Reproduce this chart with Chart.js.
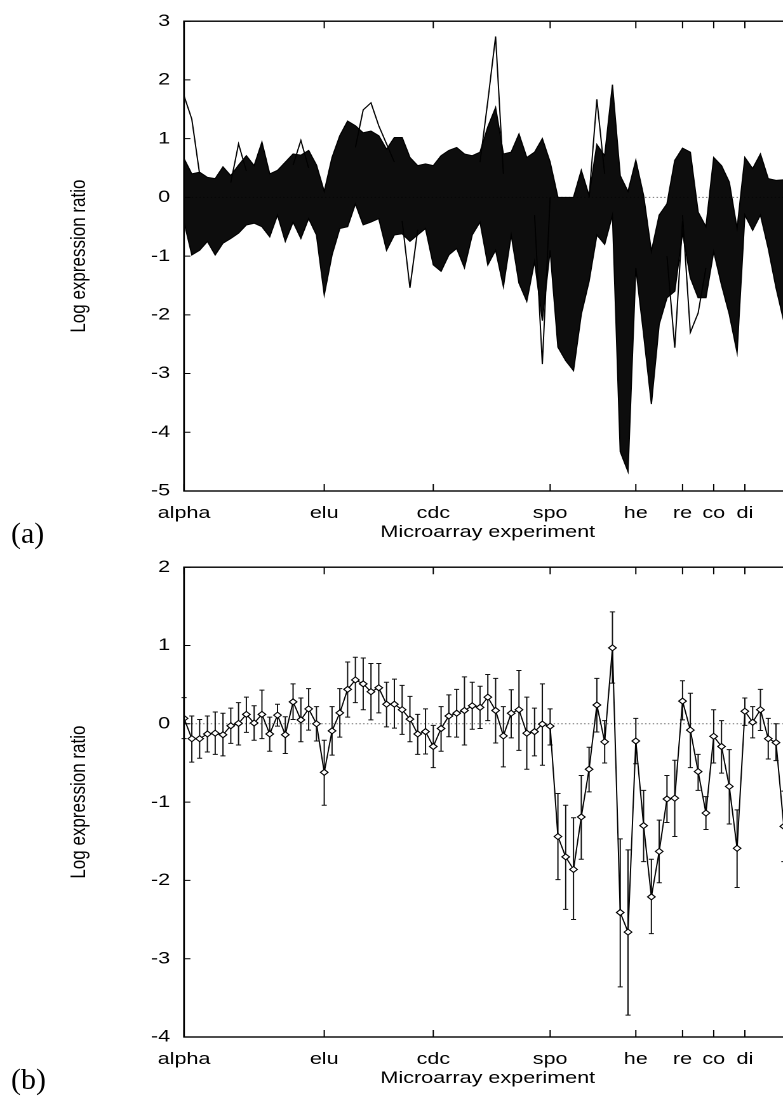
<!DOCTYPE html>
<html>
<head>
<meta charset="utf-8">
<script src="https://cdn.jsdelivr.net/npm/chart.js@4.4.1/dist/chart.umd.min.js"></script>
<style>
  html, body { margin: 0; padding: 0; background: #fff; overflow: hidden; width: 783px; height: 1097px; }
  .panel { position: absolute; left: 0; width: 640px; height: 560px; transform: scaleX(1.27); transform-origin: 0 0; }
  .tag { position: absolute; left: 11px; font-family: "Liberation Serif", "Times New Roman", serif; font-size: 30px; line-height: 30px; }
</style>
</head>
<body>
<div class="panel" style="top:0"><canvas id="chartA" width="640" height="560"></canvas></div>
<div class="panel" style="top:546px"><canvas id="chartB" width="640" height="560"></canvas></div>
<div class="tag" style="top:518px">(a)</div>
<div class="tag" style="top:1064px">(b)</div>
<script>
// experiment groups along the x axis
const expNames = ["alpha", "elu", "cdc", "spo", "he", "re", "co", "di"];
const expStart = [0, 18, 32, 47, 58, 64, 68, 72];
const arrays = Array.from({ length: 79 }, (_, i) => i);

// (a) extent of the cluster bundle at each array
const bundleHigh = [0.66, 0.40, 0.43, 0.34, 0.32, 0.52, 0.37, 0.55, 0.71, 0.54,
  0.94, 0.40, 0.46, 0.60, 0.74, 0.72, 0.80, 0.55, 0.10, 0.68,
  1.05, 1.30, 1.22, 1.10, 1.13, 1.05, 0.82, 1.02, 1.02, 0.68,
  0.54, 0.57, 0.54, 0.71, 0.80, 0.85, 0.74, 0.71, 0.77, 1.20,
  1.53, 0.74, 0.77, 1.08, 0.68, 0.77, 1.00, 0.60, 0.00, 0.00,
  0.00, 0.46, 0.03, 0.90, 0.71, 1.92, 0.37, 0.10, 0.63, 0.03,
  -0.92, -0.30, -0.11, 0.63, 0.84, 0.77, -0.25, -0.50, 0.68, 0.54,
  0.26, -0.53, 0.68, 0.49, 0.74, 0.32, 0.29, 0.30, 0.20];
const bundleLow = [-0.42, -0.98, -0.90, -0.75, -0.98, -0.78, -0.70, -0.61, -0.47, -0.44,
  -0.50, -0.67, -0.30, -0.75, -0.42, -0.70, -0.36, -0.64, -1.66, -0.98,
  -0.53, -0.50, -0.11, -0.47, -0.42, -0.36, -0.90, -0.64, -0.62, -0.75,
  -0.64, -0.53, -1.15, -1.26, -0.98, -0.87, -1.20, -0.64, -0.42, -1.15,
  -0.90, -1.52, -0.64, -1.46, -1.77, -1.09, -2.10, -0.90, -2.55, -2.78,
  -2.95, -1.99, -1.43, -0.64, -0.80, -0.30, -4.33, -4.67, -1.20, -2.33,
  -3.52, -2.16, -1.71, -1.60, -0.60, -1.37, -1.71, -1.71, -0.92, -1.49,
  -1.99, -2.64, -0.30, -0.56, -0.30, -0.87, -1.54, -2.11, -1.80];
// single genes that leave the bundle: [array, value]
const strayGenes = [
  [[0, 1.73], [1, 1.33], [2, 0.40]],
  [[6, 0.25], [7, 0.91], [8, 0.45]],
  [[14, 0.55], [15, 0.97], [16, 0.50]],
  [[22, 0.85], [23, 1.49], [24, 1.61], [25, 1.22], [26, 0.91], [27, 0.60]],
  [[28, -0.40], [29, -1.54], [30, -0.55]],
  [[38, 0.60], [39, 1.64], [40, 2.74], [41, 0.40]],
  [[45, -0.30], [46, -2.84], [47, 0.00]],
  [[52, 0.00], [53, 1.67], [54, 0.40]],
  [[62, -1.00], [63, -2.56], [64, -0.40]],
  [[64, -0.30], [65, -2.30], [66, -1.97], [67, -1.20]]
];

// (b) cluster mean and error bar ends
const meanRatio = [0.07, -0.19, -0.19, -0.13, -0.12, -0.14, -0.025, 0.005, 0.12, 0.01,
  0.12, -0.13, 0.11, -0.14, 0.28, 0.05, 0.19, 0.00, -0.62, -0.09,
  0.14, 0.44, 0.56, 0.51, 0.41, 0.46, 0.25, 0.25, 0.18, 0.06,
  -0.13, -0.10, -0.29, -0.06, 0.10, 0.135, 0.17, 0.23, 0.21, 0.34,
  0.17, -0.155, 0.135, 0.18, -0.12, -0.10, -0.004, -0.03, -1.44, -1.70,
  -1.86, -1.19, -0.58, 0.24, -0.23, 0.97, -2.41, -2.66, -0.22, -1.30,
  -2.21, -1.63, -0.96, -0.95, 0.29, -0.08, -0.61, -1.14, -0.16, -0.29,
  -0.80, -1.59, 0.16, 0.02, 0.18, -0.19, -0.24, -1.31, -1.10];
const errTop = [0.335, 0.10, 0.055, 0.10, 0.15, 0.135, 0.20, 0.27, 0.34, 0.23,
  0.43, 0.085, 0.25, 0.09, 0.51, 0.33, 0.45, 0.22, -0.21, 0.22,
  0.45, 0.79, 0.85, 0.84, 0.77, 0.77, 0.53, 0.57, 0.49, 0.35,
  0.12, 0.19, -0.02, 0.22, 0.37, 0.44, 0.60, 0.53, 0.48, 0.63,
  0.58, 0.22, 0.435, 0.68, 0.34, 0.20, 0.51, 0.19, -0.89, -1.04,
  -1.20, -0.66, -0.30, 0.58, 0.04, 1.43, -1.47, -1.61, 0.07, -0.85,
  -1.73, -1.23, -0.66, -0.465, 0.55, 0.39, -0.39, -0.93, 0.18, 0.04,
  -0.33, -1.10, 0.33, 0.22, 0.44, 0.07, 0.00, -0.86, -0.60];
const errBottom = [-0.19, -0.49, -0.44, -0.36, -0.39, -0.41, -0.25, -0.27, -0.11, -0.21,
  -0.19, -0.35, -0.03, -0.38, 0.055, -0.23, -0.08, -0.22, -1.04, -0.40,
  -0.17, 0.085, 0.27, 0.18, 0.05, 0.14, -0.04, -0.055, -0.135, -0.23,
  -0.39, -0.385, -0.56, -0.35, -0.165, -0.17, -0.27, -0.07, -0.06, 0.04,
  -0.245, -0.55, -0.18, -0.34, -0.58, -0.41, -0.53, -0.27, -1.99, -2.37,
  -2.50, -1.73, -0.87, -0.105, -0.50, 0.52, -3.36, -3.72, -0.51, -1.76,
  -2.68, -2.03, -1.26, -1.44, 0.05, -0.56, -0.85, -1.35, -0.50, -0.63,
  -1.28, -2.09, -0.02, -0.18, -0.085, -0.45, -0.47, -1.76, -1.60];

Chart.defaults.font.family = '"Liberation Sans", Arial, Helvetica, sans-serif';
Chart.defaults.font.size = 17;
Chart.defaults.color = "#000";

// gnuplot style box, inward ticks and dotted zero axis
const frame = {
  id: "frame",
  beforeDatasetsDraw(chart) {
    const { ctx, chartArea: a, scales: { y } } = chart;
    const y0 = y.getPixelForValue(0);
    ctx.save();
    ctx.strokeStyle = "#777";
    ctx.lineWidth = 1;
    ctx.setLineDash([1.2, 1.8]);
    ctx.beginPath();
    ctx.moveTo(a.left, y0);
    ctx.lineTo(a.right, y0);
    ctx.stroke();
    ctx.restore();
  },
  afterDatasetsDraw(chart) {
    const { ctx, chartArea: a, scales: { x, y } } = chart;
    ctx.save();
    ctx.strokeStyle = "#000";
    ctx.lineWidth = 1;
    ctx.beginPath();
    expStart.forEach(v => {
      const px = x.getPixelForValue(v);
      ctx.moveTo(px, a.bottom); ctx.lineTo(px, a.bottom - 7);
      ctx.moveTo(px, a.top); ctx.lineTo(px, a.top + 7);
    });
    y.ticks.forEach(t => {
      const py = y.getPixelForValue(t.value);
      ctx.moveTo(a.left, py); ctx.lineTo(a.left + 5, py);
      ctx.moveTo(a.right, py); ctx.lineTo(a.right - 5, py);
    });
    ctx.stroke();
    ctx.lineWidth = 1.4;
    ctx.strokeRect(a.left, a.top, a.right - a.left, a.bottom - a.top);
    ctx.restore();
  }
};

const errorBars = {
  id: "errorBars",
  beforeDatasetsDraw(chart) {
    const { ctx, scales: { x, y } } = chart;
    ctx.save();
    ctx.strokeStyle = "#111";
    ctx.lineWidth = 1;
    ctx.beginPath();
    arrays.forEach(i => {
      const px = x.getPixelForValue(i);
      const t = y.getPixelForValue(errTop[i]);
      const b = y.getPixelForValue(errBottom[i]);
      ctx.moveTo(px, t); ctx.lineTo(px, b);
      ctx.moveTo(px - 2, t); ctx.lineTo(px + 2, t);
      ctx.moveTo(px - 2, b); ctx.lineTo(px + 2, b);
    });
    ctx.stroke();
    ctx.restore();
  }
};

function options(yMin, yMax) {
  return {
    responsive: false,
    animation: false,
    devicePixelRatio: 2,
    layout: { padding: { left: 0, right: 16.7, top: 18, bottom: 0 } },
    plugins: { legend: { display: false }, tooltip: { enabled: false } },
    elements: { line: { tension: 0 } },
    scales: {
      x: {
        type: "linear",
        min: 0,
        max: 78,
        grid: { display: false, drawTicks: false },
        border: { display: false },
        afterBuildTicks: s => { s.ticks = expStart.map(v => ({ value: v })); },
        afterFit: s => { s.height = 69; },
        ticks: {
          autoSkip: false,
          maxRotation: 0,
          padding: 12,
          callback: v => expNames[expStart.indexOf(v)]
        },
        title: { display: true, text: "Microarray experiment", padding: { top: 0, bottom: 17.6 } }
      },
      y: {
        min: yMin,
        max: yMax,
        grid: { display: false, drawTicks: false },
        border: { display: false },
        afterFit: s => { s.width = 144.9; },
        ticks: { stepSize: 1, padding: 11 },
        title: { display: true, text: "Log expression ratio", padding: { top: 52, bottom: 0 } }
      }
    }
  };
}

new Chart(document.getElementById("chartA"), {
  type: "line",
  data: {
    labels: arrays,
    datasets: [
      { data: bundleHigh, fill: "+1", backgroundColor: "rgba(0,0,0,0.95)", borderColor: "#000", borderWidth: 1, pointRadius: 0 },
      { data: bundleLow, fill: false, borderColor: "#000", borderWidth: 1, pointRadius: 0 }
    ].concat(strayGenes.map(g => ({
      data: g.map(([x, y]) => ({ x, y })),
      fill: false, borderColor: "#000", borderWidth: 1, pointRadius: 0
    })))
  },
  options: options(-5, 3),
  plugins: [frame]
});

new Chart(document.getElementById("chartB"), {
  type: "line",
  data: {
    labels: arrays,
    datasets: [{
      data: meanRatio,
      fill: false,
      borderColor: "#000",
      borderWidth: 1,
      pointStyle: "rectRot",
      pointRadius: 3,
      pointBackgroundColor: "#fff",
      pointBorderColor: "#000",
      pointBorderWidth: 1
    }]
  },
  options: options(-4, 2),
  plugins: [frame, errorBars]
});
</script>
</body>
</html>
